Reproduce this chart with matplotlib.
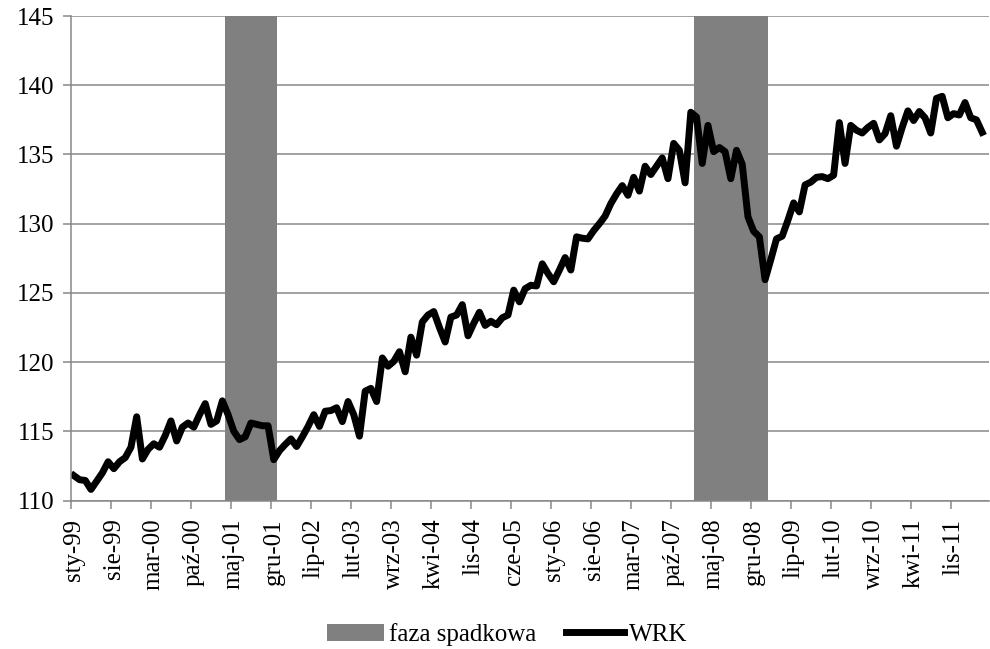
import numpy as np
import pandas as pd
import matplotlib
matplotlib.use("Agg")
import matplotlib.pyplot as plt

plt.rcParams['font.family'] = ['Liberation Serif', 'DejaVu Serif']

# monthly WRK values, starting sty-99
start = "1999-01"
wrk = [111.8, 111.5, 111.45, 110.8, 111.4, 112.0, 112.8, 112.3, 112.8, 113.1,
       113.85, 116.05, 113.0, 113.7, 114.1, 113.85, 114.7, 115.75, 114.3, 115.3,
       115.6, 115.3, 116.2, 117.0, 115.5, 115.75, 117.2, 116.2, 115.0, 114.4,
       114.6, 115.6, 115.5, 115.4, 115.4, 112.95, 113.6, 114.05, 114.45, 113.9,
       114.6, 115.35, 116.2, 115.35, 116.45, 116.5, 116.7, 115.7, 117.15, 116.2,
       114.65, 117.9, 118.1, 117.15, 120.3, 119.7, 120.05, 120.75, 119.3, 121.8,
       120.5, 122.9, 123.4, 123.65, 122.5, 121.45, 123.25, 123.4, 124.15, 121.9,
       122.8, 123.6, 122.65, 122.95, 122.7, 123.2, 123.4, 125.2, 124.35, 125.3,
       125.55, 125.5, 127.1, 126.4, 125.8, 126.65, 127.55, 126.65, 129.05, 128.95,
       128.9, 129.5, 130.0, 130.55, 131.45, 132.15, 132.75, 132.05, 133.35, 132.35,
       134.15, 133.55, 134.15, 134.75, 133.25, 135.8, 135.3, 132.95, 138.05, 137.7,
       134.35, 137.1, 135.2, 135.5, 135.2, 133.25, 135.3, 134.3, 130.5, 129.45,
       129.05, 125.95, 127.4, 128.9, 129.1, 130.25, 131.5, 130.85, 132.8, 133.0,
       133.35, 133.4, 133.25, 133.5, 137.3, 134.35, 137.1, 136.75, 136.55, 136.95,
       137.25, 136.05, 136.5, 137.8, 135.6, 136.95, 138.15, 137.45, 138.1, 137.65,
       136.55, 139.05, 139.2, 137.65, 137.95, 137.85, 138.75, 137.65, 137.5, 136.6]

# falling phases (first and last month)
spadek_od = ["2001-04", "2008-02"]
spadek_do = ["2001-12", "2009-02"]

miesiace = ["sty", "lut", "mar", "kwi", "maj", "cze",
            "lip", "sie", "wrz", "paź", "lis", "gru"]

months = pd.period_range(start, periods=len(wrk), freq="M")
x = np.arange(len(wrk))
labels = [f"{miesiace[p.month - 1]}-{p.year % 100:02d}" for p in months]

gray = "#878787"

fig = plt.figure(figsize=(9.9, 6.49), dpi=100)
ax = fig.add_axes([0.0717, 0.2288, 0.9273, 0.7465])

bars = []
for a, b in zip(spadek_od, spadek_do):
    i0 = months.get_loc(pd.Period(a, "M"))
    i1 = months.get_loc(pd.Period(b, "M"))
    bars.append(ax.bar(i0 - 0.5, 145 - 110, width=i1 - i0 + 1, bottom=110,
                       align="edge", color="#808080", linewidth=0))

line, = ax.plot(x, wrk, color="black", lw=5, solid_joinstyle="round")

ax.set_ylim(110, 145)
ax.set_yticks(range(110, 146, 5))
ax.set_xlim(-0.5, 160.2)
ax.grid(axis="y", color=gray, lw=1.1)
ax.set_axisbelow(True)

ax.set_xticks(np.arange(-0.5, len(wrk), 7))
ax.set_xticklabels([])
ax.set_xticks(x[::7], minor=True)
ax.set_xticklabels(labels[::7], minor=True, rotation=90)
ax.tick_params(axis="x", which="major", length=6, width=1.1, color=gray)
ax.tick_params(axis="x", which="minor", length=0, pad=13, labelsize=18)
ax.tick_params(axis="y", length=6, width=1.1, color=gray, pad=6, labelsize=18)

for s in ["top", "right"]:
    ax.spines[s].set_visible(False)
for s in ["left", "bottom"]:
    ax.spines[s].set_color(gray)
    ax.spines[s].set_linewidth(1.1)

fig.legend([bars[0], line], ["faza spadkowa", "WRK"], loc="center",
           bbox_to_anchor=(0.512, 0.022), ncol=2, frameon=False,
           fontsize=18, handlelength=2.3, handletextpad=0.2, columnspacing=1.2)

fig.savefig("out.png", dpi=100)
